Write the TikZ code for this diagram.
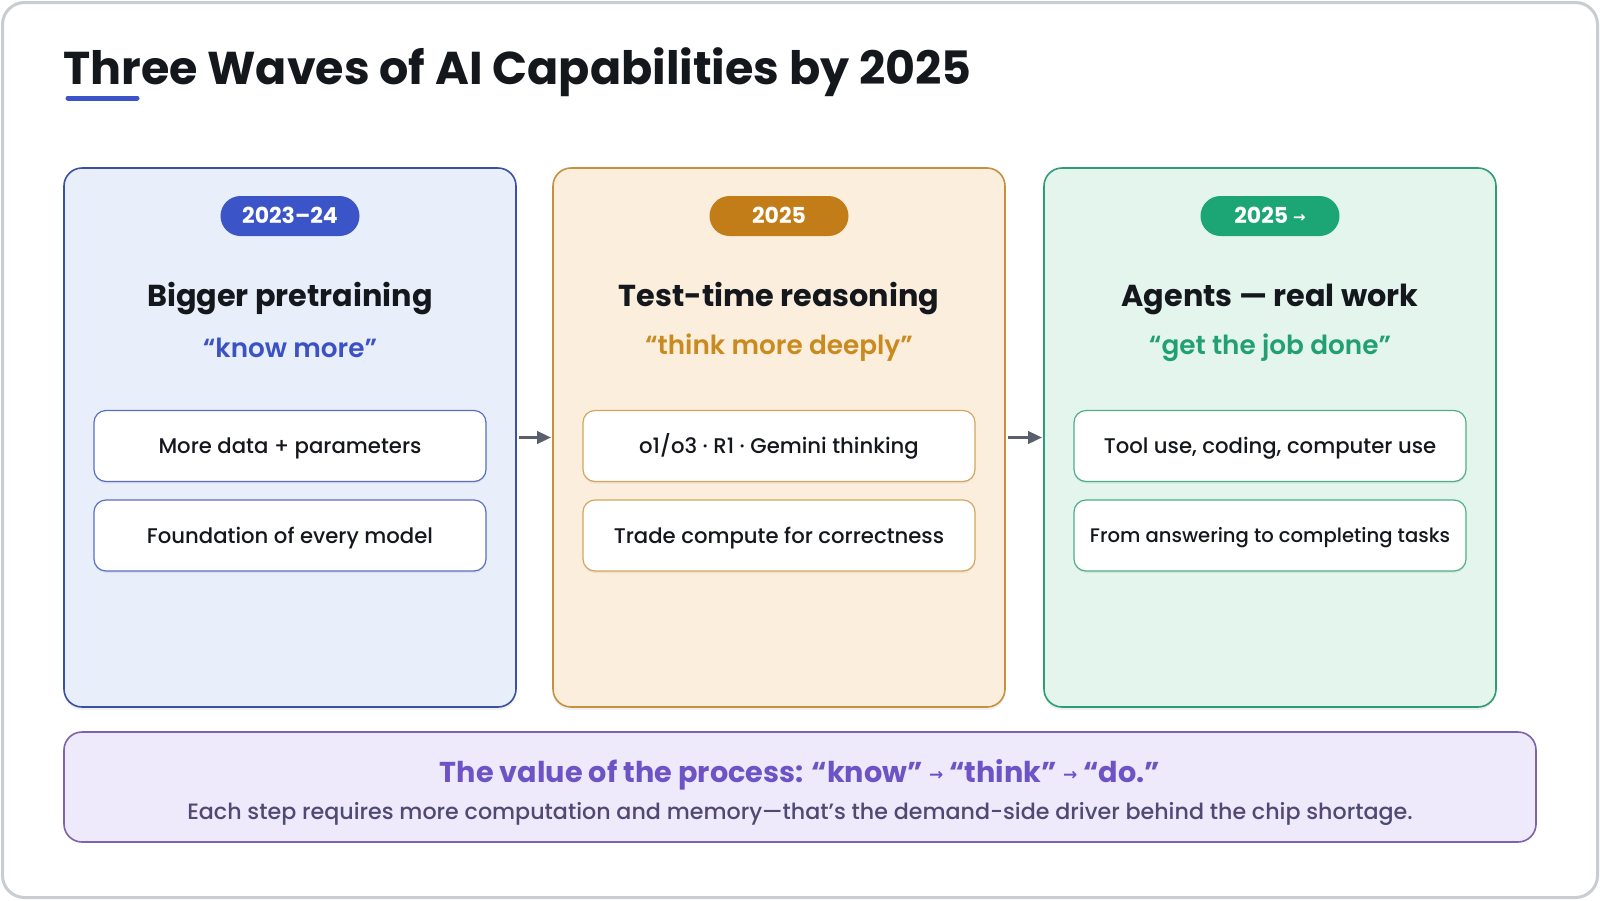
\documentclass[tikz,border=0pt]{standalone}
\usepackage{fontspec}
\setmainfont{Poppins}
\newfontfamily\pbold{Poppins Bold}
\newfontfamily\psemi{Poppins SemiBold}
\newfontfamily\pmed{Poppins Medium}
\newfontfamily\djv{DejaVu Sans}
\usetikzlibrary{arrows.meta,shadows}
\definecolor{ink}{HTML}{14171C}
\definecolor{frameC}{HTML}{C9CCD3}
\definecolor{bluePill}{HTML}{3B55C9}
\definecolor{blueStroke}{HTML}{3A51A3}
\definecolor{blueFill}{HTML}{E9EEFB}
\definecolor{blueInner}{HTML}{5A6FC0}
\definecolor{blueQuote}{HTML}{3B52C4}
\definecolor{orPill}{HTML}{C27D18}
\definecolor{orStroke}{HTML}{C4923F}
\definecolor{orFill}{HTML}{FCEEDD}
\definecolor{orInner}{HTML}{D3A65E}
\definecolor{orQuote}{HTML}{C98A1F}
\definecolor{grPill}{HTML}{1CA676}
\definecolor{grStroke}{HTML}{2E9C74}
\definecolor{grFill}{HTML}{E4F5EE}
\definecolor{grInner}{HTML}{4DAE8A}
\definecolor{grQuote}{HTML}{22A073}
\definecolor{puStroke}{HTML}{7D63A9}
\definecolor{puFill}{HTML}{EFE9FC}
\definecolor{puTitle}{HTML}{6E53C5}
\definecolor{puSub}{HTML}{4F4A72}
\definecolor{arrC}{HTML}{5B5F6D}
\newcommand{\smallarr}[2]{\raisebox{#2}{\djv\bfseries\fontsize{#1}{#1}\selectfont →}}
\tikzset{
  panel/.style={draw, line width=1.6pt, rounded corners=18pt, minimum width=452pt, minimum height=539pt, inner sep=0pt,
    drop shadow={shadow xshift=0pt, shadow yshift=-3pt, opacity=0.06, fill=black}},
  pill/.style={rounded corners=20pt, minimum width=139pt, minimum height=40pt, inner sep=0pt, text=white,
    text height=15pt, text depth=0pt, font=\pbold\fontsize{22}{24}\selectfont},
  heading/.style={inner sep=0pt, text=ink, font=\pbold\fontsize{30.3}{34}\selectfont},
  quote/.style={inner sep=0pt, font=\psemi\fontsize{26.3}{30}\selectfont},
  inner/.style={draw, fill=white, line width=1.2pt, rounded corners=12pt, minimum width=392pt, minimum height=71pt,
    inner sep=0pt, text=ink, text height=15pt, text depth=0pt, font=\pmed\fontsize{21.2}{24}\selectfont,
    drop shadow={shadow xshift=0pt, shadow yshift=-2pt, opacity=0.05, fill=black}},
  flow/.style={draw=arrC, line width=3.5pt, -{Triangle[length=14pt,width=12pt]}, shorten <=2pt, shorten >=1pt}
}
\begin{document}
\begin{tikzpicture}[x=1pt,y=-1pt]
\useasboundingbox (0,0) rectangle (1600,900);
\fill[white] (0,0) rectangle (1600,900);
\draw[frameC, line width=3pt, fill=white, rounded corners=22pt] (2.5,2.5) rectangle (1597.5,897.5);

% title
\node[anchor=base west, inner sep=0pt, text=ink, font=\pbold\fontsize{46}{52}\selectfont] (title) at (63,84) {Three Waves of AI Capabilities by 2025};
\coordinate (ulA) at (68,98);
\coordinate (ulB) at (137,98);
\draw[bluePill, line width=5pt, line cap=round] (ulA) -- (ulB);

% panels
\node[panel, draw=blueStroke, fill=blueFill] (p1) at (290,437.5) {};
\node[panel, draw=orStroke, fill=orFill] (p2) at (779,437.5) {};
\node[panel, draw=grStroke, fill=grFill] (p3) at (1270,437.5) {};

% pills
\node[pill, fill=bluePill] (y1) at (290,216) {2023–24};
\node[pill, fill=orPill] (y2) at (779,216) {2025};
\node[pill, fill=grPill] (y3) at (1270,216) {2025\hspace{5pt}\smallarr{15}{1.5pt}};

% headings
\node[heading] (h1) at (290,299) {Bigger pretraining};
\node[heading] (h2) at (779,299) {Test-time reasoning};
\node[heading] (h3) at (1270,299) {Agents — real work};

% quotes
\node[quote, text=blueQuote] (q1) at (290,348) {“know more”};
\node[quote, text=orQuote] (q2) at (779,348) {“think more deeply”};
\node[quote, text=grQuote] (q3) at (1270,348) {“get the job done”};

% inner boxes
\node[inner, draw=blueInner] (b11) at (290,446) {More data + parameters};
\node[inner, draw=blueInner] (b12) at (290,535.5) {Foundation of every model};
\node[inner, draw=orInner] (b21) at (779,446) {o1/o3 · R1 · Gemini thinking};
\node[inner, draw=orInner] (b22) at (779,535.5) {Trade compute for correctness};
\node[inner, draw=grInner] (b31) at (1270,446) {Tool use, coding, computer use};
\node[inner, draw=grInner, text height=14pt, font=\pmed\fontsize{19.6}{22}\selectfont] (b32) at (1270,535.5) {From answering to completing tasks};

% arrows
\draw[flow] (p1) -- (p2);
\draw[flow] (p2) -- (p3);

% bottom box
\node[draw=puStroke, fill=puFill, line width=1.6pt, rounded corners=18pt, minimum width=1472pt, minimum height=110pt, inner sep=0pt] (bot) at (800,787) {};
\node[inner sep=0pt, text=puTitle, font=\pbold\fontsize{28.7}{32}\selectfont] (botT) at (800,775)
  {The value of the process: “know” \smallarr{17}{2pt} “think” \smallarr{17}{2pt} “do.”};
\node[inner sep=0pt, text=puSub, font=\pmed\fontsize{22.2}{26}\selectfont] (botS) at (800,814)
  {Each step requires more computation and memory—that’s the demand-side driver behind the chip shortage.};
\end{tikzpicture}
\end{document}
